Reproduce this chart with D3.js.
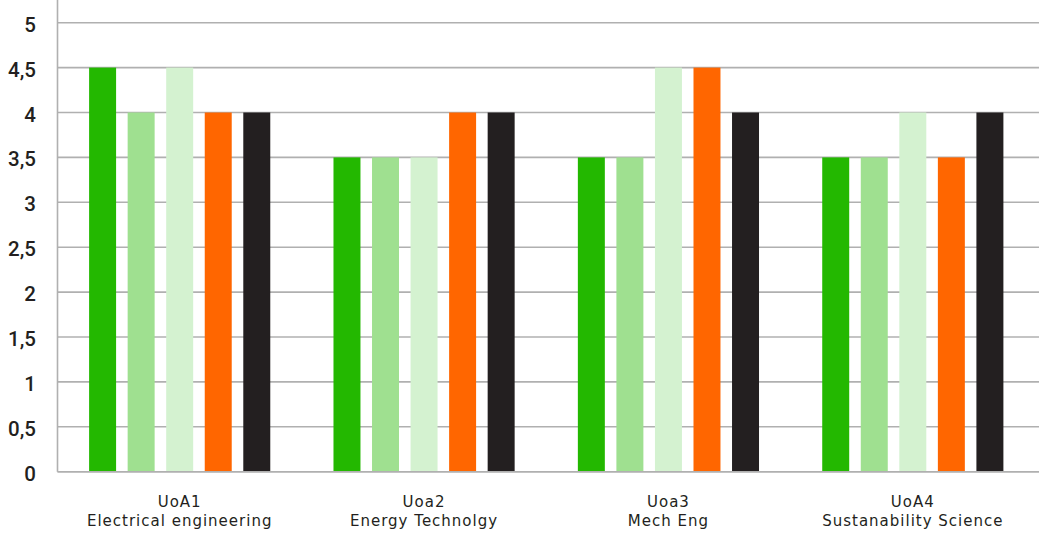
<!DOCTYPE html>
<html>
<head>
<meta charset="utf-8">
<script src="https://cdn.jsdelivr.net/npm/d3@7"></script>
<style>
  html, body { margin: 0; padding: 0; background: #fff; }
  svg { display: block; }
  text { fill: #231f20; }
  .tick-label { font-family: "Roboto", sans-serif; font-weight: 500; }
  .cat-label { font-family: "DejaVu Sans", sans-serif; letter-spacing: 1px; }
</style>
</head>
<body>
<svg id="chart" width="1039" height="536"></svg>
<script>
// Units of assessment and their labels (two lines each)
const categories = ["UoA1", "Uoa2", "Uoa3", "UoA4"];
const categoryNames = ["Electrical engineering", "Energy Technolgy", "Mech Eng", "Sustanability Science"];

// Five series, one value per category
const series = ["s1", "s2", "s3", "s4", "s5"];
const s1 = [4.5, 3.5, 3.5, 3.5];
const s2 = [4, 3.5, 3.5, 3.5];
const s3 = [4.5, 3.5, 4.5, 4];
const s4 = [4, 4, 4.5, 3.5];
const s5 = [4, 4, 4, 4];
const seriesValues = [s1, s2, s3, s4, s5];
const seriesColors = ["#23b800", "#9fe090", "#d4f2d0", "#ff6600", "#231f20"];

// Value axis ticks
const yTicks = [0, 0.5, 1, 1.5, 2, 2.5, 3, 3.5, 4, 4.5, 5];
const yTickLabels = ["0", "0,5", "1", "1,5", "2", "2,5", "3", "3,5", "4", "4,5", "5"];

const svg = d3.select("#chart");
const W = 1039;
const left = 57.5;

const y = d3.scaleLinear().domain([0, 5.5]).range([471.7, -22.2]);

const x0 = d3.scaleBand().domain(categories).range([left, 1035]).padding(0);
const x1 = d3.scaleBand().domain(series).range([0, x0.bandwidth()])
  .paddingInner(0.3).paddingOuter(0.82);

// Horizontal grid lines
svg.append("g").selectAll("line")
  .data(yTicks)
  .join("line")
  .attr("x1", left).attr("x2", W)
  .attr("y1", d => y(d)).attr("y2", d => y(d))
  .attr("stroke", "#b0b0b0").attr("stroke-width", 1.6);

// Vertical axis line
svg.append("line")
  .attr("x1", left).attr("x2", left)
  .attr("y1", y(0)).attr("y2", y(5.5))
  .attr("stroke", "#b0b0b0").attr("stroke-width", 1.6);

// Tick labels
svg.append("g").selectAll("text")
  .data(yTicks)
  .join("text")
  .attr("class", "tick-label")
  .attr("x", 36)
  .attr("y", d => y(d) + 9)
  .attr("text-anchor", "end")
  .attr("font-size", 20.5)
  .text((d, i) => yTickLabels[i]);

// Bars
const groups = svg.append("g").selectAll("g")
  .data(categories)
  .join("g")
  .attr("transform", d => `translate(${x0(d)},0)`);

groups.selectAll("rect")
  .data((c, ci) => series.map((s, si) => ({ s, v: seriesValues[si][ci], color: seriesColors[si] })))
  .join("rect")
  .attr("x", d => x1(d.s))
  .attr("width", x1.bandwidth())
  .attr("y", d => y(d.v))
  .attr("height", d => y(0) - y(d.v))
  .attr("fill", d => d.color);

// Baseline redrawn over the bars
svg.append("line")
  .attr("x1", left).attr("x2", W)
  .attr("y1", y(0)).attr("y2", y(0))
  .attr("stroke", "#b0b0b0").attr("stroke-width", 1.6);

// Category labels
const cx = d => x0(d) + x0.bandwidth() / 2;
const labels = svg.append("g").selectAll("text")
  .data(categories)
  .join("text")
  .attr("class", "cat-label")
  .attr("text-anchor", "middle")
  .attr("font-size", 15)
  .attr("x", cx);
labels.append("tspan").attr("x", cx).attr("y", 507).text(d => d);
labels.append("tspan").attr("x", cx).attr("y", 525.5).text((d, i) => categoryNames[i]);
</script>
</body>
</html>
